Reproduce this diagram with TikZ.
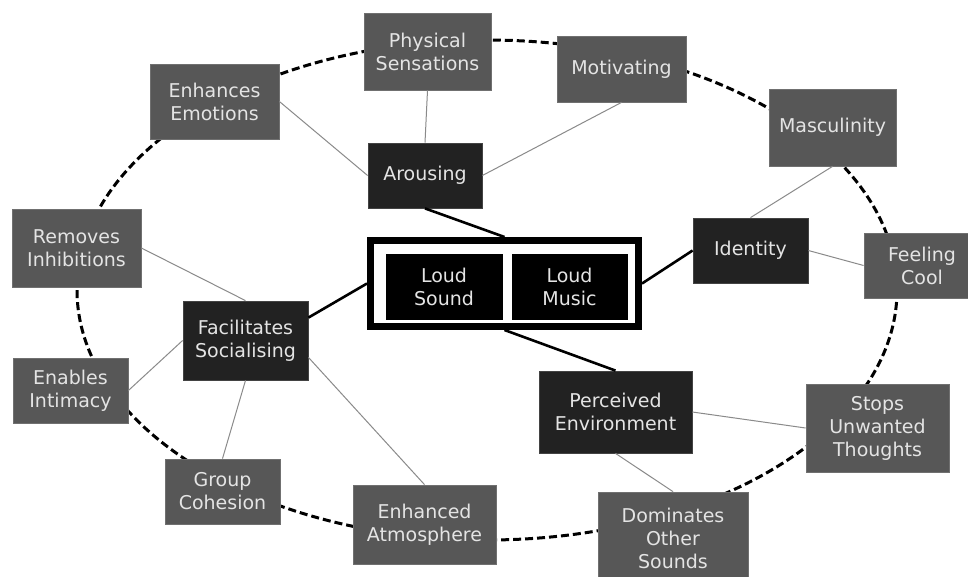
\documentclass[tikz,border=0pt]{standalone}
\usepackage{fontspec}
\setmainfont{DejaVu Sans}
\definecolor{boxgray}{HTML}{575757}
\definecolor{boxdark}{HTML}{222222}
\definecolor{txt}{HTML}{E4E4E4}
\definecolor{thin}{HTML}{8A8A8A}
\tikzset{
  basebox/.style={rectangle, inner sep=0pt, align=center, text=txt,
    font=\fontsize{19}{23}\selectfont, line width=0.8pt},
  outerbox/.style={basebox, fill=boxgray, draw=boxgray!85!white},
  innerbox/.style={basebox, fill=boxdark, draw=boxdark!85!white},
  loudbox/.style={basebox, fill=black, draw=black},
  thinline/.style={draw=thin, line width=1pt},
  thickline/.style={draw=black, line width=2.6pt},
  ring/.style={draw=black, line width=3pt, dash pattern=on 8pt off 4pt}
}
\begin{document}
\begin{tikzpicture}[x=1pt,y=-1pt]
\clip (0,0) rectangle (968,576);
\fill[white] (0,0) rectangle (968,576);
% dashed ring
\draw[ring] (487,290) ellipse [x radius=410, y radius=250];

% outer boxes
\node[outerbox, minimum width=127pt, minimum height=77pt] (phys) at (427.5,51.5) {Physical\\Sensations};
\node[outerbox, minimum width=129pt, minimum height=75pt] (enh) at (214.5,101.5) {Enhances\\Emotions};
\node[outerbox, minimum width=129pt, minimum height=66pt] (motiv) at (621.5,69) {Motivating};
\node[outerbox, minimum width=127pt, minimum height=77pt] (masc) at (832.5,127.5) {Masculinity};
\node[outerbox, minimum width=116pt, minimum height=65pt] (feel) at (922,265.5) {Feeling\\Cool};
\node[outerbox, minimum width=129pt, minimum height=78pt] (remov) at (76.5,248) {Removes\\Inhibitions};
\node[outerbox, minimum width=115pt, minimum height=65pt] (enab) at (70.5,390.5) {Enables\\Intimacy};
\node[outerbox, minimum width=115pt, minimum height=65pt] (group) at (222.5,491.5) {Group\\Cohesion};
\node[outerbox, minimum width=143pt, minimum height=79pt] (atmos) at (424.5,524.5) {Enhanced\\Atmosphere};
\node[outerbox, minimum width=143pt, minimum height=88pt] (stops) at (877.5,428) {Stops\\Unwanted\\Thoughts};
\node[outerbox, minimum width=150pt, minimum height=92pt] (domin) at (673,538) {Dominates\\Other\\Sounds};

% inner (dark) boxes
\node[innerbox, minimum width=114pt, minimum height=65pt] (arous) at (425,175.5) {Arousing};
\node[innerbox, minimum width=115pt, minimum height=65pt] (ident) at (750.5,250.5) {Identity};
\node[innerbox, minimum width=125pt, minimum height=79pt] (facil) at (245.5,340.5) {Facilitates\\Socialising};
\node[innerbox, minimum width=153pt, minimum height=82pt] (perc) at (615.5,412) {Perceived\\Environment};

% central frame
\node[draw=black, fill=white, line width=7pt, minimum width=268pt, minimum height=86pt, inner sep=0pt] (frame) at (504.5,283.5) {};
\node[loudbox, minimum width=116pt, minimum height=65pt] (sound) at (444,286.5) {Loud\\Sound};
\node[loudbox, minimum width=115pt, minimum height=65pt] (music) at (569.5,286.5) {Loud\\Music};

% thin connectors
\draw[thinline] (enh.east) -- (arous.west);
\draw[thinline] (phys.south) -- (arous.north);
\draw[thinline] (motiv.south) -- (arous.east);
\draw[thinline] (masc.south) -- (ident.north);
\draw[thinline] (ident.east) -- (feel.west);
\draw[thinline] (remov.east) -- (facil.north);
\draw[thinline] (enab.east) -- (facil.west);
\draw[thinline] (group.north) -- (facil.south);
\draw[thinline] (facil.-15) -- (atmos.north);
\draw[thinline] (perc.east) -- (stops.west);
\draw[thinline] (perc.south) -- (domin.north);

% thick connectors
\draw[thickline] (arous.south) -- (frame.north);
\draw[thickline] (facil.20) -- (frame.west);
\draw[thickline] (ident.west) -- (frame.east);
\draw[thickline] (frame.south) -- (perc.north);
\end{tikzpicture}
\end{document}
